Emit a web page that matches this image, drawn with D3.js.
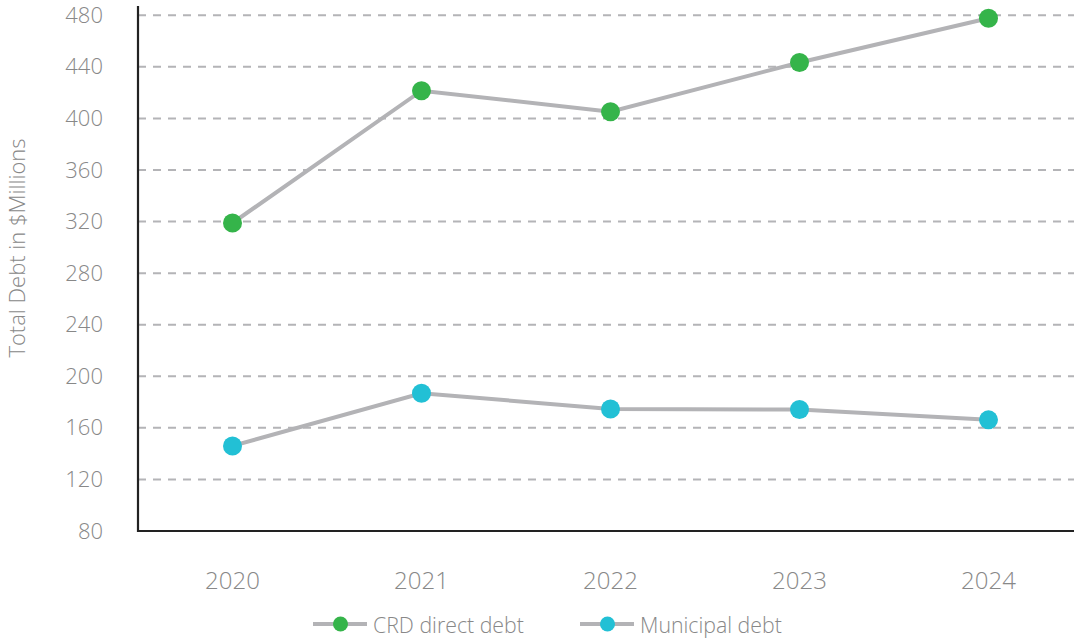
<!DOCTYPE html>
<html>
<head>
<meta charset="utf-8">
<script src="https://cdn.jsdelivr.net/npm/d3@7"></script>
<style>
  html, body { margin: 0; padding: 0; background: #fff; }
  svg { display: block; font-family: "Open Sans", "Noto Sans", sans-serif; font-weight: 300; }
</style>
</head>
<body>
<svg id="chart" width="1074" height="643"></svg>
<script>
// Total debt by year, $ millions
const years = ["2020", "2021", "2022", "2023", "2024"];
const crdDirectDebt = [318.9, 421.5, 405.2, 443.4, 477.7];
const municipalDebt = [146.0, 186.8, 174.7, 174.2, 166.2];
const yTicks = [80, 120, 160, 200, 240, 280, 320, 360, 400, 440, 480];
const seriesNames = ["CRD direct debt", "Municipal debt"];
const seriesColors = ["#35b44a", "#22c0d5"];

const svg = d3.select("#chart");
const plotLeft = 138, plotRight = 1083, plotTop = 15.3, plotBottom = 531;
const textColor = "#888888";

const x = d3.scaleBand().domain(years).range([plotLeft, plotRight]);
const y = d3.scaleLinear().domain([80, 480]).range([plotBottom, plotTop]);
const cx = d => x(d) + x.bandwidth() / 2;

// dashed horizontal gridlines
svg.append("g")
  .selectAll("line")
  .data(yTicks.filter(t => t > 80))
  .join("line")
  .attr("x1", plotLeft).attr("x2", 1074)
  .attr("y1", d => y(d)).attr("y2", d => y(d))
  .attr("stroke", "#b4b4b7")
  .attr("stroke-width", 2)
  .attr("stroke-dasharray", "8,7");

// y axis tick labels
const yAxis = svg.append("g")
  .attr("transform", `translate(${plotLeft},0)`)
  .call(d3.axisLeft(y).tickValues(yTicks).tickSize(0).tickPadding(35).tickFormat(d3.format("d")));
yAxis.select(".domain").remove();
yAxis.selectAll("text")
  .attr("fill", textColor)
  .style("font-size", "22px")
  .style("font-family", "\"Open Sans\", sans-serif")
  .style("font-weight", 300);

// x axis tick labels
const xAxis = svg.append("g")
  .attr("transform", `translate(0,${plotBottom})`)
  .call(d3.axisBottom(x).tickSize(0).tickPadding(36));
xAxis.select(".domain").remove();
xAxis.selectAll("text")
  .attr("fill", textColor)
  .attr("dy", null)
  .attr("y", 58)
  .style("font-size", "24px")
  .style("font-family", "\"Open Sans\", sans-serif")
  .style("font-weight", 300);

// axis lines
svg.append("line")
  .attr("x1", plotLeft).attr("x2", plotLeft)
  .attr("y1", 6).attr("y2", plotBottom + 1)
  .attr("stroke", "#222").attr("stroke-width", 2.2);
svg.append("line")
  .attr("x1", plotLeft - 1).attr("x2", 1074)
  .attr("y1", plotBottom).attr("y2", plotBottom)
  .attr("stroke", "#222").attr("stroke-width", 2.2);

// y axis title
svg.append("text")
  .attr("transform", `translate(25,248) rotate(-90)`)
  .attr("text-anchor", "middle")
  .attr("fill", textColor)
  .style("font-size", "22px")
  .text("Total Debt in $Millions");

// series lines and markers
const line = d3.line().x((d, i) => cx(years[i])).y(d => y(d));
[crdDirectDebt, municipalDebt].forEach((vals, s) => {
  svg.append("path")
    .datum(vals)
    .attr("d", line)
    .attr("fill", "none")
    .attr("stroke", "#b3b3b6")
    .attr("stroke-width", 4);
  svg.append("g")
    .selectAll("circle")
    .data(vals)
    .join("circle")
    .attr("cx", (d, i) => cx(years[i]))
    .attr("cy", d => y(d))
    .attr("r", 9.5)
    .attr("fill", seriesColors[s]);
});

// legend
const legendItems = [
  { name: seriesNames[0], color: seriesColors[0], x0: 313 },
  { name: seriesNames[1], color: seriesColors[1], x0: 580 }
];
const ly = 624;
const lg = svg.append("g");
legendItems.forEach(item => {
  lg.append("line")
    .attr("x1", item.x0).attr("x2", item.x0 + 54)
    .attr("y1", ly).attr("y2", ly)
    .attr("stroke", "#b3b3b6").attr("stroke-width", 4);
  lg.append("circle")
    .attr("cx", item.x0 + 27.5).attr("cy", ly).attr("r", 7.5)
    .attr("fill", item.color);
  lg.append("text")
    .attr("x", item.x0 + 60).attr("y", ly + 9)
    .attr("fill", textColor)
    .style("font-size", "21.3px")
    .text(item.name);
});
</script>
</body>
</html>
